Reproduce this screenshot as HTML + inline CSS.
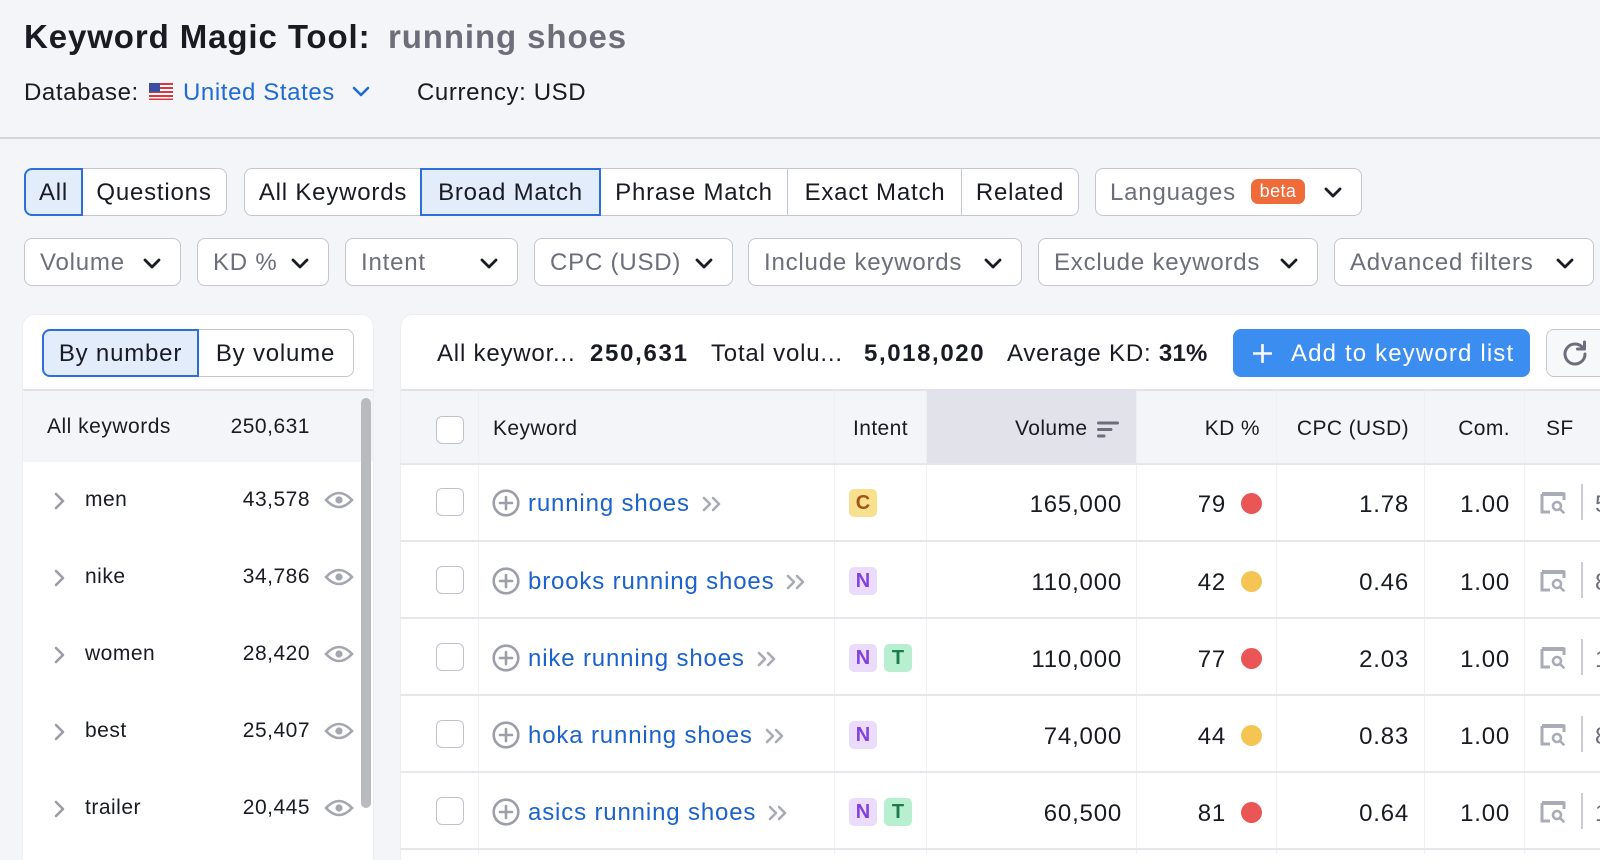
<!DOCTYPE html>
<html><head><meta charset="utf-8">
<style>
*{box-sizing:border-box;margin:0;padding:0}
body{width:1600px;height:854px;overflow:hidden;background:#f4f5f9;font-family:"Liberation Sans",Arial,sans-serif;color:#191b23;position:relative}
.a{position:absolute;white-space:nowrap;line-height:1}
.sg{position:absolute;top:168px;height:48px;border:1.5px solid #c4c7cf;background:#fff;display:flex;align-items:center;justify-content:center;font-size:24px;letter-spacing:.8px;color:#191b23;padding-top:1px}
.l{border-radius:8px 0 0 8px}.r{border-radius:0 8px 8px 0}
.on{background:#e3ecfb;border:2px solid #2c6fd8;z-index:2}
.fl{position:absolute;top:238px;height:48px;border:1.5px solid #c4c7cf;border-radius:8px;background:#fff;font-size:24px;letter-spacing:.8px;color:#6c6f7b;padding-left:15px;display:flex;align-items:center;white-space:nowrap;padding-top:1px}
.fl svg{position:absolute;right:19px;top:19px}
.t24{font-size:24px;letter-spacing:.8px}
.t21{font-size:21px;letter-spacing:.5px}
.vd{position:absolute;top:390px;width:1px;height:464px;background:#eff0f3}
.sep{position:absolute;left:400px;width:1200px;height:2px;background:#e6e7eb}
.cb{position:absolute;width:28px;height:28px;border:1.5px solid #c0c3cc;border-radius:6px;background:#fff}
.bd{position:absolute;width:28px;height:28px;border-radius:5px;font-size:20px;font-weight:bold;display:flex;align-items:center;justify-content:center}
.N{background:#ebdcfd;color:#8141dc}.T{background:#b8efd0;color:#1d7a4a}.C{background:#f9e08e;color:#a0561a}
.dot{position:absolute;width:21px;height:21px;border-radius:50%}
.kw{position:absolute;left:528px;height:28px;display:flex;align-items:center;font-size:24px;letter-spacing:.85px;color:#1b62cc;white-space:nowrap;line-height:1}
.kw svg{margin-left:12px}
</style></head><body>

<!-- header -->
<div class="a" style="left:24px;top:20px;font-size:33px;font-weight:bold;letter-spacing:.9px;color:#191b23">Keyword Magic Tool:</div>
<div class="a" style="left:388px;top:20px;font-size:33px;font-weight:bold;letter-spacing:.9px;color:#6c6e79">running shoes</div>

<div class="a t24" style="left:24px;top:81px;letter-spacing:.6px">Database:</div>
<svg class="a" style="left:149px;top:83px" width="24" height="17" viewBox="0 0 24 17">
<rect width="24" height="17" fill="#fff"/>
<g fill="#e0343a"><rect y="0" width="24" height="2"/><rect y="4" width="24" height="2"/><rect y="8" width="24" height="2"/><rect y="12" width="24" height="2"/><rect y="15.5" width="24" height="1.5"/></g>
<rect width="11" height="9" fill="#3a4fa0"/>
</svg>
<div class="a t24" style="left:183px;top:81px;color:#1f6bd3;letter-spacing:.6px">United States</div>
<svg class="a" style="left:352px;top:86px" width="18" height="11" viewBox="0 0 18 11"><path d="M2 2 L9 9 L16 2" stroke="#1f6bd3" stroke-width="2.6" fill="none" stroke-linecap="round" stroke-linejoin="round"/></svg>
<div class="a t24" style="left:417px;top:81px;letter-spacing:.6px">Currency: USD</div>

<div class="a" style="left:0;top:137px;width:1600px;height:2px;background:#d3d5db"></div>

<!-- tabs -->
<div class="sg l on" style="left:24px;width:59px">All</div>
<div class="sg r" style="left:81px;width:146px">Questions</div>
<div class="sg l" style="left:244px;width:178px">All Keywords</div>
<div class="sg on" style="left:420px;width:181px">Broad Match</div>
<div class="sg" style="left:599px;width:190px">Phrase Match</div>
<div class="sg" style="left:787px;width:176px">Exact Match</div>
<div class="sg r" style="left:961px;width:118px">Related</div>
<div class="sg" style="left:1095px;width:267px;border-radius:8px;justify-content:flex-start;padding-left:14px;color:#6c6f7b">Languages
<span style="position:absolute;left:155px;top:10px;width:54px;height:25px;border-radius:7px;background:#ef6b3a;color:#fff;font-size:18px;letter-spacing:.4px;display:flex;align-items:center;justify-content:center">beta</span>
<svg style="position:absolute;left:228px;top:18px" width="18" height="11" viewBox="0 0 18 11"><path d="M2 2 L9 9 L16 2" stroke="#191b23" stroke-width="2.8" fill="none" stroke-linecap="round" stroke-linejoin="round"/></svg>
</div>

<!-- filters -->
<div class="fl" style="left:24px;width:157px">Volume<svg width="18" height="11" viewBox="0 0 18 11"><path d="M2 2 L9 9 L16 2" stroke="#191b23" stroke-width="2.8" fill="none" stroke-linecap="round" stroke-linejoin="round"/></svg></div>
<div class="fl" style="left:197px;width:132px">KD %<svg width="18" height="11" viewBox="0 0 18 11"><path d="M2 2 L9 9 L16 2" stroke="#191b23" stroke-width="2.8" fill="none" stroke-linecap="round" stroke-linejoin="round"/></svg></div>
<div class="fl" style="left:345px;width:173px">Intent<svg width="18" height="11" viewBox="0 0 18 11"><path d="M2 2 L9 9 L16 2" stroke="#191b23" stroke-width="2.8" fill="none" stroke-linecap="round" stroke-linejoin="round"/></svg></div>
<div class="fl" style="left:534px;width:199px">CPC (USD)<svg width="18" height="11" viewBox="0 0 18 11"><path d="M2 2 L9 9 L16 2" stroke="#191b23" stroke-width="2.8" fill="none" stroke-linecap="round" stroke-linejoin="round"/></svg></div>
<div class="fl" style="left:748px;width:274px">Include keywords<svg width="18" height="11" viewBox="0 0 18 11"><path d="M2 2 L9 9 L16 2" stroke="#191b23" stroke-width="2.8" fill="none" stroke-linecap="round" stroke-linejoin="round"/></svg></div>
<div class="fl" style="left:1038px;width:280px">Exclude keywords<svg width="18" height="11" viewBox="0 0 18 11"><path d="M2 2 L9 9 L16 2" stroke="#191b23" stroke-width="2.8" fill="none" stroke-linecap="round" stroke-linejoin="round"/></svg></div>
<div class="fl" style="left:1334px;width:260px">Advanced filters<svg width="18" height="11" viewBox="0 0 18 11"><path d="M2 2 L9 9 L16 2" stroke="#191b23" stroke-width="2.8" fill="none" stroke-linecap="round" stroke-linejoin="round"/></svg></div>

<!-- left card -->
<div class="a" style="left:23px;top:315px;width:350px;height:545px;background:#fff;border-radius:12px 12px 0 0;box-shadow:0 0 0 1px #eceef2"></div>
<div class="sg l on" style="left:42px;top:329px;width:157px">By number</div>
<div class="sg r" style="left:197px;top:329px;width:157px">By volume</div>
<div class="a" style="left:23px;top:389px;width:350px;height:1.5px;background:#e1e3e8"></div>
<div class="a" style="left:23px;top:391px;width:350px;height:71px;background:#f4f5f9"></div>
<div class="a t21" style="left:47px;top:416px">All keywords</div>
<div class="a t21" style="right:1290px;top:416px">250,631</div>
<div class="a" style="left:361px;top:398px;width:10px;height:410px;border-radius:5px;background:#b9babe"></div>

<!-- left rows -->
<svg class="a" style="left:53px;top:492px" width="14" height="18" viewBox="0 0 14 18"><path d="M3 2 L10 9 L3 16" stroke="#9a9ca6" stroke-width="2.6" fill="none" stroke-linecap="round" stroke-linejoin="round"/></svg>
<div class="a t21" style="left:85px;top:489px">men</div>
<div class="a t21" style="right:1290px;top:489px">43,578</div>
<svg class="a" style="left:324px;top:489px" width="30" height="22" viewBox="0 0 30 22"><path d="M2 11 Q15 -3 28 11 Q15 25 2 11 Z" stroke="#a4a6b0" stroke-width="2.6" fill="none"/><circle cx="15" cy="11" r="3.6" fill="#a4a6b0"/></svg>

<svg class="a" style="left:53px;top:569px" width="14" height="18" viewBox="0 0 14 18"><path d="M3 2 L10 9 L3 16" stroke="#9a9ca6" stroke-width="2.6" fill="none" stroke-linecap="round" stroke-linejoin="round"/></svg>
<div class="a t21" style="left:85px;top:566px">nike</div>
<div class="a t21" style="right:1290px;top:566px">34,786</div>
<svg class="a" style="left:324px;top:566px" width="30" height="22" viewBox="0 0 30 22"><path d="M2 11 Q15 -3 28 11 Q15 25 2 11 Z" stroke="#a4a6b0" stroke-width="2.6" fill="none"/><circle cx="15" cy="11" r="3.6" fill="#a4a6b0"/></svg>

<svg class="a" style="left:53px;top:646px" width="14" height="18" viewBox="0 0 14 18"><path d="M3 2 L10 9 L3 16" stroke="#9a9ca6" stroke-width="2.6" fill="none" stroke-linecap="round" stroke-linejoin="round"/></svg>
<div class="a t21" style="left:85px;top:643px">women</div>
<div class="a t21" style="right:1290px;top:643px">28,420</div>
<svg class="a" style="left:324px;top:643px" width="30" height="22" viewBox="0 0 30 22"><path d="M2 11 Q15 -3 28 11 Q15 25 2 11 Z" stroke="#a4a6b0" stroke-width="2.6" fill="none"/><circle cx="15" cy="11" r="3.6" fill="#a4a6b0"/></svg>

<svg class="a" style="left:53px;top:723px" width="14" height="18" viewBox="0 0 14 18"><path d="M3 2 L10 9 L3 16" stroke="#9a9ca6" stroke-width="2.6" fill="none" stroke-linecap="round" stroke-linejoin="round"/></svg>
<div class="a t21" style="left:85px;top:720px">best</div>
<div class="a t21" style="right:1290px;top:720px">25,407</div>
<svg class="a" style="left:324px;top:720px" width="30" height="22" viewBox="0 0 30 22"><path d="M2 11 Q15 -3 28 11 Q15 25 2 11 Z" stroke="#a4a6b0" stroke-width="2.6" fill="none"/><circle cx="15" cy="11" r="3.6" fill="#a4a6b0"/></svg>

<svg class="a" style="left:53px;top:800px" width="14" height="18" viewBox="0 0 14 18"><path d="M3 2 L10 9 L3 16" stroke="#9a9ca6" stroke-width="2.6" fill="none" stroke-linecap="round" stroke-linejoin="round"/></svg>
<div class="a t21" style="left:85px;top:797px">trailer</div>
<div class="a t21" style="right:1290px;top:797px">20,445</div>
<svg class="a" style="left:324px;top:797px" width="30" height="22" viewBox="0 0 30 22"><path d="M2 11 Q15 -3 28 11 Q15 25 2 11 Z" stroke="#a4a6b0" stroke-width="2.6" fill="none"/><circle cx="15" cy="11" r="3.6" fill="#a4a6b0"/></svg>

<!-- right card -->
<div class="a" style="left:401px;top:315px;width:1210px;height:545px;background:#fff;border-radius:12px 0 0 0;box-shadow:0 0 0 1px #eceef2"></div>
<div class="a t24" style="left:437px;top:342px">All keywor...</div>
<div class="a t24" style="left:590px;top:342px;font-weight:bold;letter-spacing:1.7px">250,631</div>
<div class="a t24" style="left:711px;top:342px">Total volu...</div>
<div class="a t24" style="left:864px;top:342px;font-weight:bold;letter-spacing:1.6px">5,018,020</div>
<div class="a t24" style="left:1007px;top:342px">Average KD: <b style="letter-spacing:.2px">31%</b></div>

<div class="a" style="left:1233px;top:329px;width:297px;height:48px;border-radius:8px;background:#3c8df0"></div>
<svg class="a" style="left:1253px;top:344px" width="19" height="19" viewBox="0 0 19 19"><path d="M9.5 1 V18 M1 9.5 H18" stroke="#fff" stroke-width="2.6" stroke-linecap="round"/></svg>
<div class="a t24" style="left:1291px;top:342px;color:#fff;letter-spacing:1.15px">Add to keyword list</div>

<div class="a" style="left:1546px;top:329px;width:80px;height:48px;border-radius:8px;border:1.5px solid #c4c7cf;background:#f7f8fa"></div>
<svg class="a" style="left:1561px;top:339px" width="28" height="28" viewBox="0 0 28 28"><path d="M22 9 A10 10 0 1 0 24 15" stroke="#6c6f7b" stroke-width="3" fill="none" stroke-linecap="round"/><path d="M23.5 3 V10 H16.5" stroke="#6c6f7b" stroke-width="3" fill="none" stroke-linecap="round" stroke-linejoin="round"/></svg>

<!-- table header -->
<div class="a" style="left:401px;top:389px;width:1200px;height:1.5px;background:#e1e3e8"></div>
<div class="a" style="left:401px;top:391px;width:1200px;height:73px;background:#f4f5f9"></div>
<div class="a" style="left:926px;top:391px;width:210px;height:73px;background:#e1e2ea"></div>
<div class="vd" style="left:478px"></div>
<div class="vd" style="left:834px"></div>
<div class="vd" style="left:926px"></div>
<div class="vd" style="left:1136px"></div>
<div class="vd" style="left:1276px"></div>
<div class="vd" style="left:1424px"></div>
<div class="vd" style="left:1524px"></div>
<div class="cb" style="left:436px;top:416px"></div>
<div class="a t21" style="left:493px;top:418px;letter-spacing:.4px">Keyword</div>
<div class="a t21" style="left:853px;top:418px;letter-spacing:.4px">Intent</div>
<div class="a t21" style="left:1015px;top:418px;letter-spacing:.4px">Volume</div>
<svg class="a" style="left:1097px;top:421px" width="22" height="17" viewBox="0 0 22 17"><path d="M1.5 2 H20.5 M1.5 8.5 H14 M1.5 15 H7" stroke="#6c6f7b" stroke-width="3" stroke-linecap="round"/></svg>
<div class="a t21" style="right:340px;top:418px;letter-spacing:.4px">KD %</div>
<div class="a t21" style="right:191px;top:418px;letter-spacing:.4px">CPC (USD)</div>
<div class="a t21" style="right:90px;top:418px;letter-spacing:.4px">Com.</div>
<div class="a t21" style="left:1546px;top:418px;letter-spacing:.4px">SF</div>
<div class="sep" style="top:463px"></div>

<!-- rows -->
<div class="sep" style="top:540px"></div>
<div class="sep" style="top:617px"></div>
<div class="sep" style="top:694px"></div>
<div class="sep" style="top:771px"></div>
<div class="sep" style="top:848px"></div>

<!-- row 1 cy=502 -->
<div class="cb" style="left:436px;top:488px"></div>
<svg class="a" style="left:492px;top:489px" width="28" height="28" viewBox="0 0 28 28"><circle cx="14" cy="14" r="12.3" stroke="#9c9fa9" stroke-width="2.6" fill="none"/><path d="M14 8 V20 M8 14 H20" stroke="#9c9fa9" stroke-width="2.6" stroke-linecap="round"/></svg>
<div class="kw" style="top:490px">running shoes<svg width="20" height="16" viewBox="0 0 20 16"><path d="M2 2 L8 8 L2 14 M11 2 L17 8 L11 14" stroke="#a8abb5" stroke-width="2.6" fill="none" stroke-linecap="round" stroke-linejoin="round"/></svg></div>
<div class="bd C" style="left:849px;top:489px">C</div>
<div class="a t24" style="right:478px;top:493px">165,000</div>
<div class="a t24" style="right:374px;top:493px">79</div>
<div class="dot" style="left:1241px;top:493px;background:#ea5555"></div>
<div class="a t24" style="right:191px;top:493px">1.78</div>
<div class="a t24" style="right:90px;top:493px">1.00</div>
<svg class="a" style="left:1540px;top:490px" width="26" height="24" viewBox="0 0 26 24"><path d="M2 4 V22 H10 M2 4 H24 V10" stroke="#a9acb6" stroke-width="3" fill="none"/><rect x="2" y="2" width="22" height="4" fill="#a9acb6"/><circle cx="17" cy="16" r="4" stroke="#a9acb6" stroke-width="2.6" fill="none"/><path d="M20 19 L23.5 22.5" stroke="#a9acb6" stroke-width="2.6" stroke-linecap="round"/></svg>
<div class="a" style="left:1581px;top:484px;width:2px;height:36px;background:#cbcdd4"></div>
<div class="a t24" style="left:1595px;top:493px;color:#6c6f7b">5</div>

<!-- row 2 cy=580 -->
<div class="cb" style="left:436px;top:566px"></div>
<svg class="a" style="left:492px;top:567px" width="28" height="28" viewBox="0 0 28 28"><circle cx="14" cy="14" r="12.3" stroke="#9c9fa9" stroke-width="2.6" fill="none"/><path d="M14 8 V20 M8 14 H20" stroke="#9c9fa9" stroke-width="2.6" stroke-linecap="round"/></svg>
<div class="kw" style="top:568px">brooks running shoes<svg width="20" height="16" viewBox="0 0 20 16"><path d="M2 2 L8 8 L2 14 M11 2 L17 8 L11 14" stroke="#a8abb5" stroke-width="2.6" fill="none" stroke-linecap="round" stroke-linejoin="round"/></svg></div>
<div class="bd N" style="left:849px;top:567px">N</div>
<div class="a t24" style="right:478px;top:571px">110,000</div>
<div class="a t24" style="right:374px;top:571px">42</div>
<div class="dot" style="left:1241px;top:571px;background:#f4c552"></div>
<div class="a t24" style="right:191px;top:571px">0.46</div>
<div class="a t24" style="right:90px;top:571px">1.00</div>
<svg class="a" style="left:1540px;top:568px" width="26" height="24" viewBox="0 0 26 24"><path d="M2 4 V22 H10 M2 4 H24 V10" stroke="#a9acb6" stroke-width="3" fill="none"/><rect x="2" y="2" width="22" height="4" fill="#a9acb6"/><circle cx="17" cy="16" r="4" stroke="#a9acb6" stroke-width="2.6" fill="none"/><path d="M20 19 L23.5 22.5" stroke="#a9acb6" stroke-width="2.6" stroke-linecap="round"/></svg>
<div class="a" style="left:1581px;top:562px;width:2px;height:36px;background:#cbcdd4"></div>
<div class="a t24" style="left:1595px;top:571px;color:#6c6f7b">8</div>

<!-- row 3 cy=657 -->
<div class="cb" style="left:436px;top:643px"></div>
<svg class="a" style="left:492px;top:644px" width="28" height="28" viewBox="0 0 28 28"><circle cx="14" cy="14" r="12.3" stroke="#9c9fa9" stroke-width="2.6" fill="none"/><path d="M14 8 V20 M8 14 H20" stroke="#9c9fa9" stroke-width="2.6" stroke-linecap="round"/></svg>
<div class="kw" style="top:645px">nike running shoes<svg width="20" height="16" viewBox="0 0 20 16"><path d="M2 2 L8 8 L2 14 M11 2 L17 8 L11 14" stroke="#a8abb5" stroke-width="2.6" fill="none" stroke-linecap="round" stroke-linejoin="round"/></svg></div>
<div class="bd N" style="left:849px;top:644px">N</div>
<div class="bd T" style="left:884px;top:644px">T</div>
<div class="a t24" style="right:478px;top:648px">110,000</div>
<div class="a t24" style="right:374px;top:648px">77</div>
<div class="dot" style="left:1241px;top:648px;background:#ea5555"></div>
<div class="a t24" style="right:191px;top:648px">2.03</div>
<div class="a t24" style="right:90px;top:648px">1.00</div>
<svg class="a" style="left:1540px;top:645px" width="26" height="24" viewBox="0 0 26 24"><path d="M2 4 V22 H10 M2 4 H24 V10" stroke="#a9acb6" stroke-width="3" fill="none"/><rect x="2" y="2" width="22" height="4" fill="#a9acb6"/><circle cx="17" cy="16" r="4" stroke="#a9acb6" stroke-width="2.6" fill="none"/><path d="M20 19 L23.5 22.5" stroke="#a9acb6" stroke-width="2.6" stroke-linecap="round"/></svg>
<div class="a" style="left:1581px;top:639px;width:2px;height:36px;background:#cbcdd4"></div>
<div class="a t24" style="left:1595px;top:648px;color:#6c6f7b">1</div>

<!-- row 4 cy=734 -->
<div class="cb" style="left:436px;top:720px"></div>
<svg class="a" style="left:492px;top:721px" width="28" height="28" viewBox="0 0 28 28"><circle cx="14" cy="14" r="12.3" stroke="#9c9fa9" stroke-width="2.6" fill="none"/><path d="M14 8 V20 M8 14 H20" stroke="#9c9fa9" stroke-width="2.6" stroke-linecap="round"/></svg>
<div class="kw" style="top:722px">hoka running shoes<svg width="20" height="16" viewBox="0 0 20 16"><path d="M2 2 L8 8 L2 14 M11 2 L17 8 L11 14" stroke="#a8abb5" stroke-width="2.6" fill="none" stroke-linecap="round" stroke-linejoin="round"/></svg></div>
<div class="bd N" style="left:849px;top:721px">N</div>
<div class="a t24" style="right:478px;top:725px">74,000</div>
<div class="a t24" style="right:374px;top:725px">44</div>
<div class="dot" style="left:1241px;top:725px;background:#f4c552"></div>
<div class="a t24" style="right:191px;top:725px">0.83</div>
<div class="a t24" style="right:90px;top:725px">1.00</div>
<svg class="a" style="left:1540px;top:722px" width="26" height="24" viewBox="0 0 26 24"><path d="M2 4 V22 H10 M2 4 H24 V10" stroke="#a9acb6" stroke-width="3" fill="none"/><rect x="2" y="2" width="22" height="4" fill="#a9acb6"/><circle cx="17" cy="16" r="4" stroke="#a9acb6" stroke-width="2.6" fill="none"/><path d="M20 19 L23.5 22.5" stroke="#a9acb6" stroke-width="2.6" stroke-linecap="round"/></svg>
<div class="a" style="left:1581px;top:716px;width:2px;height:36px;background:#cbcdd4"></div>
<div class="a t24" style="left:1595px;top:725px;color:#6c6f7b">8</div>

<!-- row 5 cy=811 -->
<div class="cb" style="left:436px;top:797px"></div>
<svg class="a" style="left:492px;top:798px" width="28" height="28" viewBox="0 0 28 28"><circle cx="14" cy="14" r="12.3" stroke="#9c9fa9" stroke-width="2.6" fill="none"/><path d="M14 8 V20 M8 14 H20" stroke="#9c9fa9" stroke-width="2.6" stroke-linecap="round"/></svg>
<div class="kw" style="top:799px">asics running shoes<svg width="20" height="16" viewBox="0 0 20 16"><path d="M2 2 L8 8 L2 14 M11 2 L17 8 L11 14" stroke="#a8abb5" stroke-width="2.6" fill="none" stroke-linecap="round" stroke-linejoin="round"/></svg></div>
<div class="bd N" style="left:849px;top:798px">N</div>
<div class="bd T" style="left:884px;top:798px">T</div>
<div class="a t24" style="right:478px;top:802px">60,500</div>
<div class="a t24" style="right:374px;top:802px">81</div>
<div class="dot" style="left:1241px;top:802px;background:#ea5555"></div>
<div class="a t24" style="right:191px;top:802px">0.64</div>
<div class="a t24" style="right:90px;top:802px">1.00</div>
<svg class="a" style="left:1540px;top:799px" width="26" height="24" viewBox="0 0 26 24"><path d="M2 4 V22 H10 M2 4 H24 V10" stroke="#a9acb6" stroke-width="3" fill="none"/><rect x="2" y="2" width="22" height="4" fill="#a9acb6"/><circle cx="17" cy="16" r="4" stroke="#a9acb6" stroke-width="2.6" fill="none"/><path d="M20 19 L23.5 22.5" stroke="#a9acb6" stroke-width="2.6" stroke-linecap="round"/></svg>
<div class="a" style="left:1581px;top:793px;width:2px;height:36px;background:#cbcdd4"></div>
<div class="a t24" style="left:1595px;top:802px;color:#6c6f7b">1</div>

</body></html>
